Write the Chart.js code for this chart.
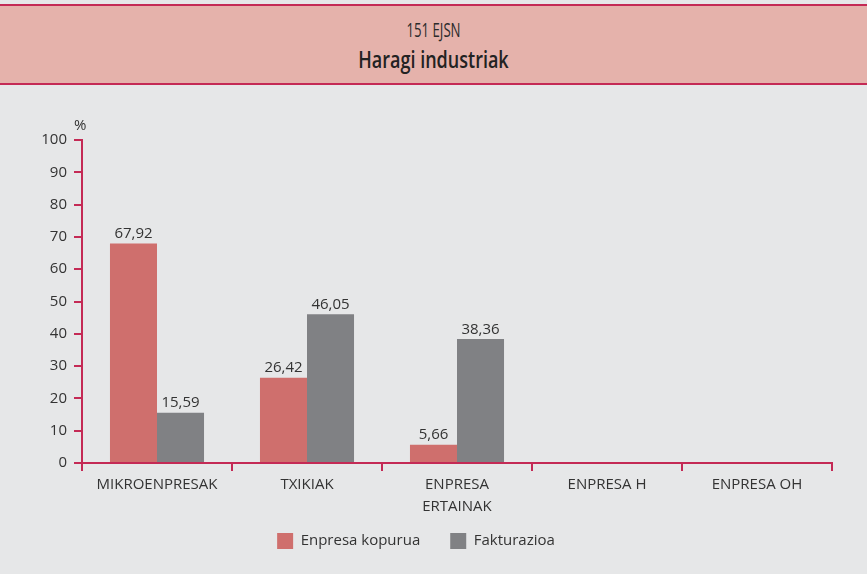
<!DOCTYPE html>
<html><head><meta charset="utf-8">
<script src="https://cdn.jsdelivr.net/npm/chart.js@4/dist/chart.umd.min.js"></script>
<style>
html,body{margin:0;padding:0;}
body{width:867px;height:574px;background:#e6e7e8;position:relative;overflow:hidden;font-family:"Open Sans",sans-serif;}
#hdr{position:absolute;left:0;top:4px;width:867px;height:77px;background:#e5b2ab;border-top:2px solid #c42a55;border-bottom:2px solid #c42a55;text-align:center;color:#2b2b2b;}
#sub{position:absolute;top:10px;width:100%;font-size:20px;line-height:normal;transform:scaleX(0.66);}
#ttl{position:absolute;top:36px;width:100%;font-size:24px;line-height:normal;font-weight:600;transform:scaleX(0.75);color:#222;}
#wrap{position:absolute;left:0;top:85px;width:867px;height:489px;}
</style></head>
<body>
<div id="hdr"><div id="sub">151 EJSN</div><div id="ttl">Haragi industriak</div></div>
<div id="wrap"><canvas id="c"></canvas></div>
<script>
const categories = ['MIKROENPRESAK','TXIKIAK',['ENPRESA','ERTAINAK'],'ENPRESA H','ENPRESA OH'];
const enpresaKopurua = [67.92, 26.42, 5.66, null, null];
const fakturazioa = [15.59, 46.05, 38.36, null, null];
const yTicks = [0,10,20,30,40,50,60,70,80,90,100];
const seriesNames = ['Enpresa kopurua','Fakturazioa'];

const FONT = '"Open Sans",sans-serif';
const AXIS = '#c42a55';

const labelPlugin = {
  id:'vals',
  afterDatasetsDraw(chart){
    const ctx = chart.ctx;
    ctx.save();
    ctx.font = '15px ' + FONT;
    ctx.fillStyle = '#333';
    ctx.textAlign = 'center';
    ctx.textBaseline = 'bottom';
    chart.data.datasets.forEach((ds,i)=>{
      chart.getDatasetMeta(i).data.forEach((bar,j)=>{
        const v = ds.data[j];
        if (v == null) return;
        ctx.fillText(v.toFixed(2).replace('.',','), bar.x, bar.y - 2);
      });
    });
    const y = chart.scales.y;
    ctx.textAlign = 'left';
    ctx.fillText('%', y.right - 8, y.top - 7);
    ctx.restore();
  }
};

new Chart(document.getElementById('c'), {
  type:'bar',
  data:{
    labels:categories,
    datasets:[
      {label:seriesNames[0], data:enpresaKopurua, backgroundColor:'#cf6f6d'},
      {label:seriesNames[1], data:fakturazioa, backgroundColor:'#808184'}
    ]
  },
  options:{
    responsive:true, maintainAspectRatio:false, animation:false,
    layout:{padding:{top:55,right:35,left:0,bottom:15}},
    datasets:{bar:{barPercentage:1, categoryPercentage:0.627}},
    plugins:{
      legend:{position:'bottom', labels:{boxWidth:16, boxHeight:16, padding:30, color:'#333', font:{family:FONT,size:15}}},
      tooltip:{enabled:false}
    },
    scales:{
      x:{
        grid:{drawOnChartArea:false, color:AXIS, tickLength:8, lineWidth:2},
        border:{color:AXIS, width:2},
        ticks:{color:'#333', padding:3, font:{family:FONT,size:15,lineHeight:1.45}, maxRotation:0, autoSkip:false},
        afterFit(s){ s.height = 40; s._computeLabelArea = () => undefined; }
      },
      y:{
        min:0, max:100,
        afterBuildTicks(s){ s.ticks = yTicks.map(v=>({value:v})); },
        grid:{drawOnChartArea:false, color:AXIS, tickLength:8, lineWidth:2},
        border:{color:AXIS, width:2},
        ticks:{color:'#333', padding:7, font:{family:FONT,size:15}},
        afterFit(s){ s.width = 82; }
      }
    }
  },
  plugins:[labelPlugin]
});
</script>
</body></html>
